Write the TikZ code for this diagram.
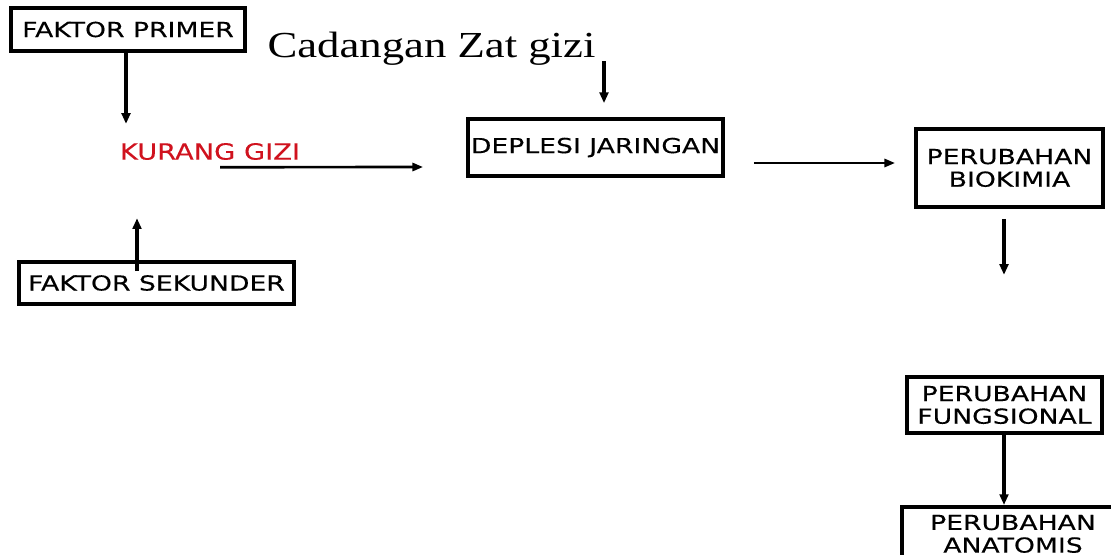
\documentclass[tikz,border=0pt]{standalone}
\usepackage{fontspec}
\usetikzlibrary{arrows.meta,calc}
\newfontfamily\boxfont[FakeStretch=1.29,FakeBold=0.3]{DejaVu Sans}
\newfontfamily\kgfont[FakeStretch=1.22,FakeBold=0.2]{DejaVu Sans}
\newfontfamily\czfont[FakeStretch=1.22]{Liberation Serif}
\definecolor{kgred}{RGB}{208,18,30}
\begin{document}
\begin{tikzpicture}[x=0.75pt,y=-0.75pt,
  box/.style={draw, line width=2.8pt, inner sep=0pt, align=center,
    font=\boxfont\fontsize{15.5}{17}\selectfont},
  varr/.style={-{Triangle[length=8pt,width=6.5pt]}, line width=2.5pt},
  harr/.style={-{Triangle[length=8pt,width=6pt]}, line width=2pt}]
\path[use as bounding box, clip] (0,0) rectangle (1111,554);
\fill[white] (0,0) rectangle (1111,554);

\node[box, minimum width=175.5pt, minimum height=32.25pt] (fp) at (128,29.5) {FAKTOR PRIMER};
\node[inner sep=0pt, text=kgred, font=\kgfont\fontsize{16.8}{19}\selectfont] (kg) at (210,151.5) {KURANG GIZI};
\node[box, minimum width=206.25pt, minimum height=31.5pt] (fs) at (156.5,283) {FAKTOR SEKUNDER};
\node[inner sep=0pt, anchor=base, font=\czfont\fontsize{27.5}{30}\selectfont] (cz) at (431.5,57) {Cadangan Zat gizi};
\node[box, minimum width=191.25pt, minimum height=42.75pt] (dj) at (595.5,147.5) {DEPLESI JARINGAN};
\node[box, minimum width=140.25pt, minimum height=58.5pt] (bk) at (1009.5,168) {PERUBAHAN\\BIOKIMIA};
\node[box, minimum width=146.25pt, minimum height=42pt] (fu) at (1004.5,405) {PERUBAHAN\\FUNGSIONAL};
\node[box, anchor=north, minimum width=166.5pt, inner ysep=6pt] (an) at (1013,505) {PERUBAHAN\\ANATOMIS};

\draw[varr] ($(fp.south)+(-2,0)$) -- ($(fp.south)+(-2,71)$);
\draw[varr] ($(fs.north)+(-19.5,11)$) -- ($(kg.south)+(-73,58)$);
\draw[harr] ($(kg.south)+(10,7)$) -- ($(dj.west)+(-43,19.5)$);
\draw[varr] ($(dj.north)+(8.5,-56)$) -- ($(dj.north)+(8.5,-14)$);
\draw[harr] ($(dj.east)+(29,15.5)$) -- ($(bk.west)+(-19,-5)$);
\draw[varr] ($(bk.south)+(-5.5,10)$) -- ($(bk.south)+(-5.5,66)$);
\draw[varr] ($(fu.south)+(-0.5,-4)$) -- ($(an.north)+(-9,0)$);
\end{tikzpicture}
\end{document}
